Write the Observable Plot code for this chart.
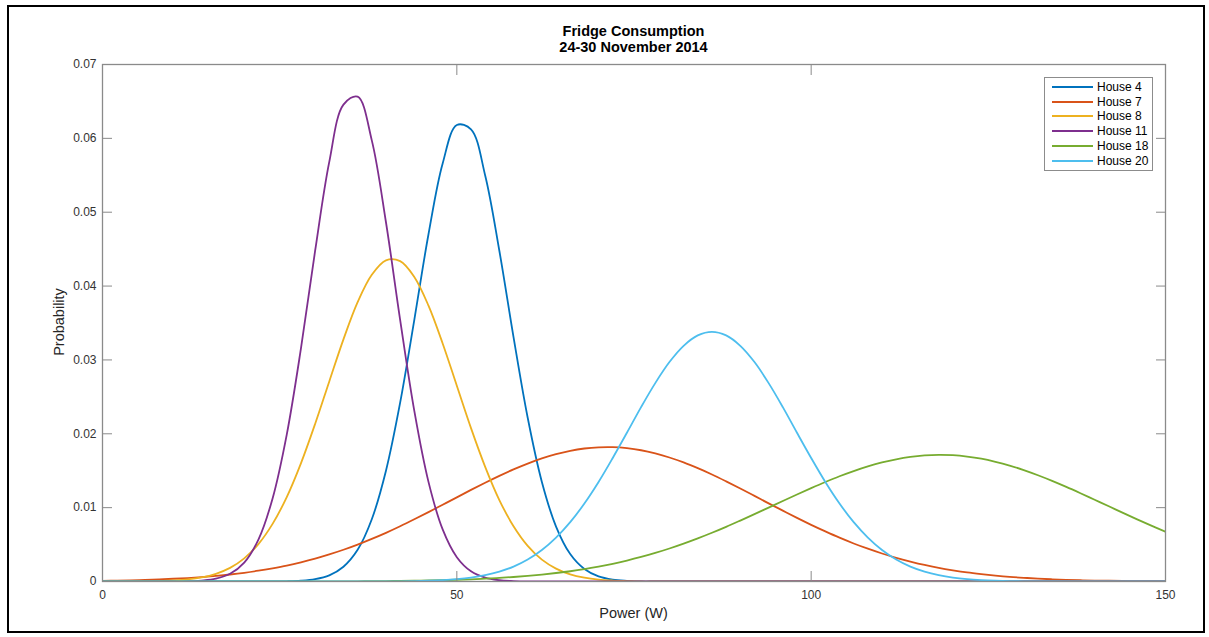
<!DOCTYPE html>
<html>
<head>
<meta charset="utf-8">
<script src="https://cdn.jsdelivr.net/npm/d3@7"></script>
<script src="https://cdn.jsdelivr.net/npm/@observablehq/plot@0.6"></script>
<style>
  html, body { margin: 0; padding: 0; background: #fff; }
  body { width: 1209px; height: 637px; position: relative; overflow: hidden; font-family: Arial, "Liberation Sans", Helvetica, sans-serif; }
  #frame { position: absolute; left: 7px; top: 5px; width: 1198px; height: 628px; border: 2px solid #000; box-sizing: border-box; }
  #chart { position: absolute; left: 0; top: 0; }
  .title { position: absolute; left: 102px; width: 1063px; text-align: center; font-weight: bold; font-size: 14.5px; color: #000; line-height: 16px; }
  .xlabel { position: absolute; left: 102px; width: 1063px; top: 605px; text-align: center; font-size: 14.5px; color: #262626; }
  .ylabel { position: absolute; left: 59px; top: 322px; transform: translate(-50%, -50%) rotate(-90deg); font-size: 14.5px; color: #262626; white-space: nowrap; }
  #legend { position: absolute; left: 1044px; top: 77px; width: 109px; height: 94px; border: 1px solid #8c8c8c; box-sizing: border-box; background: #fff; }
  .lrow { position: absolute; left: 0; height: 14px; display: flex; align-items: center; font-size: 12px; color: #000; }
  .lrow svg { margin-left: 7px; margin-right: 4px; }
</style>
</head>
<body>
<div id="frame"></div>
<div id="chart"></div>
<div class="title" style="top:23px">Fridge Consumption</div>
<div class="title" style="top:39px">24-30 November 2014</div>
<div class="xlabel">Power (W)</div>
<div class="ylabel">Probability</div>
<div id="legend"></div>
<script>
// Power (W) sample grid
const power = [0,2,4,6,8,10,12,14,16,18,20,22,24,26,28,30,32,34,36,38,40,42,44,46,48,50,52,54,56,58,60,62,64,66,68,70,72,74,76,78,80,82,84,86,88,90,92,94,96,98,100,102,104,106,108,110,112,114,116,118,120,122,124,126,128,130,132,134,136,138,140,142,144,146,148,150];

const houses = ["House 4", "House 7", "House 8", "House 11", "House 18", "House 20"];
const colors = ["#0072BD", "#D95319", "#EDB120", "#7E2F8E", "#77AC30", "#4DBEEE"];

const house4 = [0,0,0,0,0,0,0,0,0,0,0,0,0,
  0.00003,0.00011,0.00032,0.00083,0.002,0.00429,0.00843,0.015,0.02421,0.03543,0.04702,0.0566,0.06181,0.06122,0.05498,0.04478,0.03309,0.02217,0.01348,0.00744,0.00371,0.00169,0.00069,0.00026,0.00009,
  0,0,0,0,0,0,0,0,0,0,0,0,0,0,0,0,0,0,0,0,0,0,0,0,0,0,0,0,0,0,0,0,0,0,0,0,0,0];

const house7 = [0.00009,0.00012,0.00016,0.00022,0.00028,0.00037,0.00047,0.0006,0.00076,0.00095,0.00118,0.00146,0.00179,0.00216,0.0026,0.0031,0.00367,0.0043,0.005,0.00577,0.00659,0.00748,0.00842,0.00939,0.01039,0.01139,0.0124,0.01337,0.0143,0.01518,0.01597,0.01667,0.01724,0.0177,0.01801,0.01817,0.01819,0.01805,0.01777,0.01734,0.01679,0.01612,0.01534,0.01449,0.01356,0.01259,0.01159,0.01058,0.00959,0.00861,0.00767,0.00678,0.00593,0.00515,0.00444,0.00379,0.00321,0.0027,0.00224,0.00185,0.00152,0.00123,0.001,0.0008,0.00063,0.0005,0.00039,0.0003,0.00023,0.00017,0.00013,0.0001,0.00007,0.00005,0.00004,0.00003];

const house8 = [0,0,0,0.00002,0.00006,0.00014,0.00028,0.00055,0.00104,0.00184,0.00313,0.00506,0.0078,0.01143,0.016,0.02133,0.02709,0.03278,0.03782,0.04153,0.04349,0.04338,0.04124,0.03735,0.03223,0.0265,0.02077,0.01553,0.01103,0.00749,0.00483,0.00296,0.00175,0.00097,0.00052,0.00026,0.00013,0.00006,
  0,0,0,0,0,0,0,0,0,0,0,0,0,0,0,0,0,0,0,0,0,0,0,0,0,0,0,0,0,0,0,0,0,0,0,0,0,0];

const house11 = [0,0,0,0,0,0,0,
  0.00012,0.00038,0.00104,0.00256,0.00567,0.01124,0.01989,0.03153,0.04475,0.05682,0.06457,0.06565,0.05973,0.04864,0.03543,0.0231,0.01349,0.00705,0.00329,0.00138,0.00052,0.00017,0.00005,
  0,0,0,0,0,0,0,0,0,0,0,0,0,0,0,0,0,0,0,0,0,0,0,0,0,0,0,0,0,0,0,0,0,0,0,0,0,0,0,0,0,0,0,0,0,0];

const house18 = [0,0,0,0,0,0,0,0,0,0,0,0,0,0,0,0,0,0,
  0.00003,0.00004,0.00006,0.00008,0.00011,0.00014,0.00018,0.00024,0.0003,0.00039,0.00049,0.00061,0.00076,0.00094,0.00115,0.00139,0.00168,0.00202,0.0024,0.00284,0.00333,0.00387,0.00447,0.00513,0.00584,0.0066,0.0074,0.00825,0.00912,0.01001,0.0109,0.01178,0.01264,0.01347,0.01425,0.01495,0.01558,0.01612,0.01655,0.01687,0.01707,0.01715,0.0171,0.01692,0.01663,0.01621,0.0157,0.01509,0.01439,0.01363,0.01281,0.01195,0.01107,0.01019,0.00929,0.00842,0.00757,0.00675];

const house20 = [0,0,0,0,0,0,0,0,0,0,0,0,0,0,0,0,0,0,0,0,0,
  0.00003,0.00006,0.00011,0.00019,0.00032,0.00053,0.00086,0.00134,0.00202,0.00298,0.00427,0.00595,0.00803,0.01056,0.01348,0.01673,0.02014,0.02361,0.02686,0.02971,0.03191,0.03332,0.0338,0.03332,0.03191,0.02971,0.02686,0.02361,0.02014,0.01673,0.01348,0.01056,0.00803,0.00595,0.00427,0.00298,0.00202,0.00134,0.00086,0.00053,0.00032,0.00019,0.00011,0.00006,0.00003,
  0,0,0,0,0,0,0,0,0,0];

const xTicks = [0, 50, 100, 150];
const yTicks = [0, 0.01, 0.02, 0.03, 0.04, 0.05, 0.06, 0.07];
const yTickLabels = ["0", "0.01", "0.02", "0.03", "0.04", "0.05", "0.06", "0.07"];

const seriesValues = [house4, house7, house8, house11, house18, house20];
const rows = [];
houses.forEach((h, i) => {
  const vals = seriesValues[i];
  power.forEach((p, j) => rows.push({house: h, x: p, y: vals[j]}));
});

const axisColor = "#8a8a8a";
const textColor = "#333";

const chart = Plot.plot({
  width: 1209,
  height: 637,
  marginLeft: 102,
  marginRight: 44,
  marginTop: 64,
  marginBottom: 56,
  style: {fontFamily: "Arial, 'Liberation Sans', Helvetica, sans-serif", fontSize: "12px", background: "transparent"},
  x: {domain: [0, 150]},
  y: {domain: [0, 0.07]},
  color: {domain: houses, range: colors},
  marks: [
    Plot.line(rows, {x: "x", y: "y", stroke: "house", z: "house", curve: "catmull-rom", strokeWidth: 1.8, clip: true}),
    Plot.frame({stroke: axisColor, strokeWidth: 1.3}),
    Plot.axisX({anchor: "bottom", ticks: xTicks, tickSize: -10, stroke: axisColor, fill: null, label: null}),
    Plot.axisX({anchor: "top", ticks: xTicks, tickSize: -10, stroke: axisColor, fill: null, label: null}),
    Plot.axisY({anchor: "left", ticks: yTicks, tickSize: -10, stroke: axisColor, fill: null, label: null}),
    Plot.axisY({anchor: "right", ticks: yTicks, tickSize: -10, stroke: axisColor, fill: null, label: null}),
    Plot.axisX({anchor: "bottom", ticks: xTicks, tickSize: 0, tickPadding: 9, fill: textColor, label: null, fontSize: 12}),
    Plot.axisY({anchor: "left", ticks: yTicks, tickSize: 0, tickPadding: 6, fill: textColor, label: null, fontSize: 12,
      tickFormat: d => yTickLabels[yTicks.indexOf(d)]})
  ]
});
document.getElementById("chart").appendChild(chart);

// legend
const legend = document.getElementById("legend");
houses.forEach((h, i) => {
  const row = document.createElement("div");
  row.className = "lrow";
  row.style.top = (2 + i * 14.7) + "px";
  row.innerHTML = `<svg width="41" height="4"><line x1="0" y1="2" x2="41" y2="2" stroke="${colors[i]}" stroke-width="2"/></svg><span>${h}</span>`;
  legend.appendChild(row);
});
</script>
</body>
</html>
